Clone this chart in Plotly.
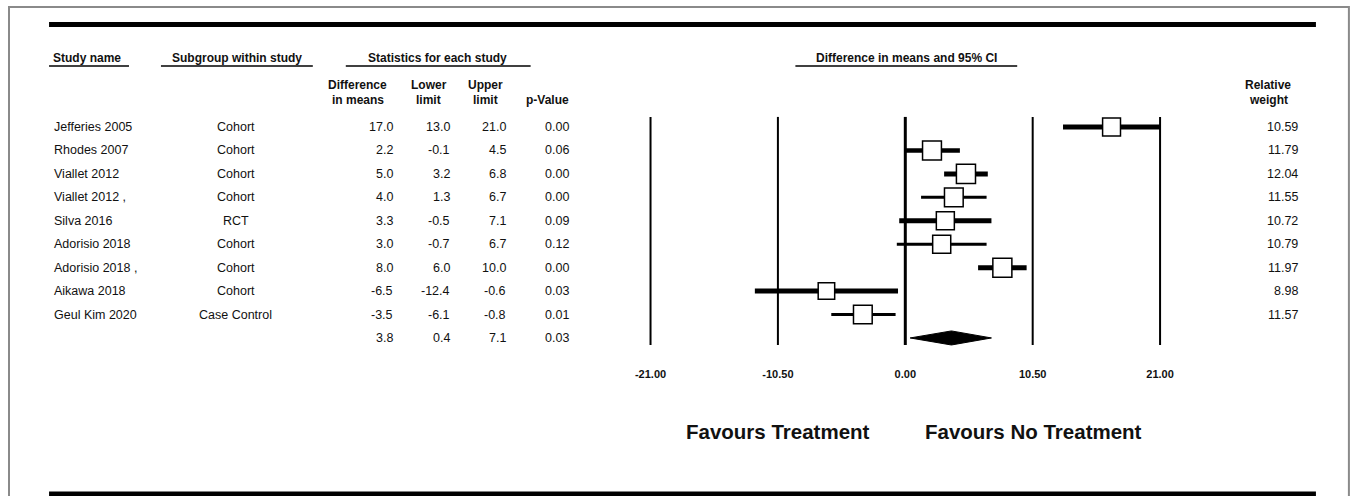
import plotly.graph_objects as go

# ---------------- data ----------------
studies = ["Jefferies 2005", "Rhodes 2007", "Viallet 2012", "Viallet 2012 ,", "Silva 2016",
           "Adorisio 2018", "Adorisio 2018 ,", "Aikawa 2018", "Geul Kim 2020"]
subgroups = ["Cohort", "Cohort", "Cohort", "Cohort", "RCT", "Cohort", "Cohort", "Cohort", "Case Control"]
diff = [17.0, 2.2, 5.0, 4.0, 3.3, 3.0, 8.0, -6.5, -3.5]
lower = [13.0, -0.1, 3.2, 1.3, -0.5, -0.7, 6.0, -12.4, -6.1]
upper = [21.0, 4.5, 6.8, 6.7, 7.1, 6.7, 10.0, -0.6, -0.8]
pvals = [0.00, 0.06, 0.00, 0.00, 0.09, 0.12, 0.00, 0.03, 0.01]
weights = [10.59, 11.79, 12.04, 11.55, 10.72, 10.79, 11.97, 8.98, 11.57]
summary_est, summary_lo, summary_hi, summary_p = 3.8, 0.4, 7.1, 0.03
tick_vals = [-21, -10.5, 0, 10.5, 21]
tick_text = ["-21.00", "-10.50", "0.00", "10.50", "21.00"]

# ---------------- styles ----------------
ci_widths = [5, 4.5, 5, 3, 5, 3, 5, 5, 3]
W, H = 1356, 496
ROW0, ROWH = 127.0, 23.44
FONT = "Liberation Sans, Arial, sans-serif"
TXT = "#111111"
# the photographed page is offset/squeezed horizontally; compensate
SX, OX = 1372.0 / 1356.0, 8.0


def px(x):
    return (x * SX - OX) / W


def py(y):
    return 1 - y / H


rows = list(range(len(studies)))
sum_row = len(studies)

fig = go.Figure()

# CI lines
for i in rows:
    fig.add_trace(go.Scatter(x=[lower[i], upper[i]], y=[i, i], mode="lines",
                             line=dict(color="black", width=ci_widths[i]),
                             hoverinfo="skip", showlegend=False))

# squares
fig.add_trace(go.Scatter(x=diff, y=rows, mode="markers",
                         marker=dict(symbol="square", color="white", opacity=1,
                                     size=[5.5 * w ** 0.5 for w in weights],
                                     line=dict(color="black", width=1.5)),
                         showlegend=False, hoverinfo="skip"))

# summary diamond
dh = 0.3
fig.add_trace(go.Scatter(x=[summary_lo, summary_est, summary_hi, summary_est, summary_lo],
                         y=[sum_row, sum_row - dh, sum_row, sum_row + dh, sum_row],
                         mode="lines", fill="toself", fillcolor="black",
                         line=dict(color="black", width=1), showlegend=False, hoverinfo="skip"))

shapes = []
# vertical reference lines
for v in tick_vals:
    shapes.append(dict(type="line", xref="x", yref="y", x0=v, x1=v, y0=-0.43, y1=9.3,
                       line=dict(color="black", width=3 if v == 0 else 2), layer="below"))

# frame & rules
shapes.append(dict(type="rect", xref="paper", yref="paper", x0=0.0, x1=px(1349), y0=py(530), y1=py(7),
                   line=dict(color="#8a8a8a", width=2)))
shapes.append(dict(type="line", xref="paper", yref="paper", x0=px(48), x1=px(1316), y0=py(24.5), y1=py(24.5),
                   line=dict(color="black", width=5)))
shapes.append(dict(type="line", xref="paper", yref="paper", x0=px(48), x1=px(1316), y0=py(494), y1=py(494),
                   line=dict(color="black", width=5)))
# header underlines
for x0, x1 in [(48, 128), (160, 312), (345, 530), (795, 1017)]:
    shapes.append(dict(type="line", xref="paper", yref="paper", x0=px(x0), x1=px(x1), y0=py(66), y1=py(66),
                       line=dict(color="black", width=1.5)))

ann = []


def text(x, y, s, anchor="left", size=12.5, bold=False, yref="y"):
    ann.append(dict(x=px(x), y=y if yref == "y" else py(y), xref="paper", yref=yref,
                    text=f"<b>{s}</b>" if bold else s, showarrow=False,
                    xanchor=anchor, yanchor="middle",
                    font=dict(family=FONT, size=size, color=TXT)))


HS = 12
# headers
text(50, 58, "Study name", bold=True, size=HS, yref="paper")
text(236, 58, "Subgroup within study", anchor="center", bold=True, size=HS, yref="paper")
text(437, 58, "Statistics for each study", anchor="center", bold=True, size=HS, yref="paper")
text(906, 58, "Difference in means and 95% CI", anchor="center", bold=True, size=HS, yref="paper")
text(357, 85, "Difference", anchor="center", bold=True, size=HS, yref="paper")
text(357, 100, "in means", anchor="center", bold=True, size=HS, yref="paper")
text(428, 85, "Lower", anchor="center", bold=True, size=HS, yref="paper")
text(428, 100, "limit", anchor="center", bold=True, size=HS, yref="paper")
text(485, 85, "Upper", anchor="center", bold=True, size=HS, yref="paper")
text(485, 100, "limit", anchor="center", bold=True, size=HS, yref="paper")
text(547, 100, "p-Value", anchor="center", bold=True, size=HS, yref="paper")
text(1268, 85, "Relative", anchor="center", bold=True, size=HS, yref="paper")
text(1269, 100, "weight", anchor="center", bold=True, size=HS, yref="paper")

# rows
for i in rows:
    text(51, i, studies[i])
    text(235, i, subgroups[i], anchor="center")
    text(394, i, f"{diff[i]:.1f}", anchor="right")
    text(451, i, f"{lower[i]:.1f}", anchor="right")
    text(507, i, f"{upper[i]:.1f}", anchor="right")
    text(570, i, f"{pvals[i]:.2f}", anchor="right")
    text(1300, i, f"{weights[i]:.2f}", anchor="right")
text(394, sum_row, f"{summary_est:.1f}", anchor="right")
text(451, sum_row, f"{summary_lo:.1f}", anchor="right")
text(507, sum_row, f"{summary_hi:.1f}", anchor="right")
text(570, sum_row, f"{summary_p:.2f}", anchor="right")

# favours labels
text(778, 431, "Favours Treatment", anchor="center", size=20.5, bold=True, yref="paper")
text(1033, 431, "Favours No Treatment", anchor="center", size=20.5, bold=True, yref="paper")

XL, XR = -21.5, 21.5
ppu = (1160 - 650) / 42.0
dom0 = px(650 + (XL + 21) * ppu)
dom1 = px(1160 + (XR - 21) * ppu)

fig.update_layout(
    width=W, height=H, margin=dict(l=0, r=0, t=0, b=0),
    paper_bgcolor="white", plot_bgcolor="rgba(0,0,0,0)",
    shapes=shapes, annotations=ann, showlegend=False,
    xaxis=dict(domain=[dom0, dom1], range=[XL, XR], anchor="free", position=py(366),
               tickvals=tick_vals, ticktext=[f"<b>{t}</b>" for t in tick_text],
               tickfont=dict(family=FONT, size=11, color=TXT), showgrid=False, zeroline=False,
               showline=False, ticks=""),
    yaxis=dict(domain=[0, 1], range=[(H - ROW0) / ROWH, -ROW0 / ROWH], visible=False,
               showgrid=False, zeroline=False),
)

post = ("document.documentElement.style.margin='0';document.body.style.margin='0';"
        "document.body.style.padding='0';document.documentElement.style.overflow='hidden';"
        "document.body.style.overflow='hidden';")

fig.write_html("out.html", config={"displayModeBar": False}, post_script=post)
